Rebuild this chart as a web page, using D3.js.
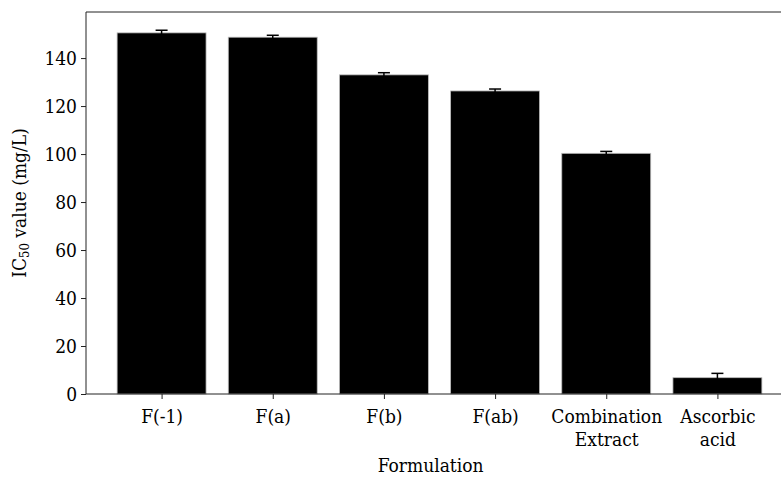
<!DOCTYPE html>
<html>
<head>
<meta charset="utf-8">
<script src="https://d3js.org/d3.v7.min.js"></script>
<style>
  body { margin: 0; background: #fff; }
  text { font-family: 'DejaVu Serif Condensed', 'DejaVu Serif', serif; fill: #000; }
  .tick text { font-size: 19px; }
  .axis path, .axis line { stroke: #222; }
</style>
</head>
<body>
<script>
// chart values
var categories = ['F(-1)', 'F(a)', 'F(b)', 'F(ab)', 'Combination\nExtract', 'Ascorbic\nacid'];
var ic50 = [150.5, 148.7, 133, 126.3, 100.3, 6.8];
var errs = [1.1, 0.8, 0.9, 0.8, 0.8, 1.8];
var yTicks = [0, 20, 40, 60, 80, 100, 120, 140];

var W = 781, H = 477;
var mLeft = 86, mTop = 12, mBottom = 394;

var svg = d3.select('body').append('svg')
  .attr('width', W)
  .attr('height', H);

// x: index positions, range extends past the right edge like the original crop
var x = d3.scaleLinear().domain([-0.68, 5.68]).range([mLeft, 793]);
var y = d3.scaleLinear().domain([0, 159.2]).range([mBottom, mTop]);
var bw = x(0.4) - x(-0.4);

// bars
svg.selectAll('rect.bar')
  .data(ic50)
  .enter()
  .append('rect')
  .attr('class', 'bar')
  .attr('x', (d, i) => x(i) - bw / 2)
  .attr('y', d => y(d))
  .attr('width', bw)
  .attr('height', d => y(0) - y(d))
  .attr('fill', '#000')
  .attr('stroke', '#bbb')
  .attr('stroke-width', 0.8);

// error bars (upper half shows above the bar)
var eg = svg.selectAll('g.err')
  .data(ic50)
  .enter()
  .append('g')
  .attr('class', 'err');
eg.append('line')
  .attr('x1', (d, i) => x(i)).attr('x2', (d, i) => x(i))
  .attr('y1', (d, i) => y(d - errs[i])).attr('y2', (d, i) => y(d + errs[i]))
  .attr('stroke', '#000').attr('stroke-width', 1.5);
eg.append('line')
  .attr('x1', (d, i) => x(i) - 6).attr('x2', (d, i) => x(i) + 6)
  .attr('y1', (d, i) => y(d + errs[i])).attr('y2', (d, i) => y(d + errs[i]))
  .attr('stroke', '#000').attr('stroke-width', 1.5);

// y axis
var ya = svg.append('g')
  .attr('class', 'axis')
  .attr('transform', `translate(${mLeft},0)`)
  .call(d3.axisLeft(y).tickValues(yTicks).tickSize(5).tickPadding(4).tickSizeOuter(0));
ya.select('.domain').attr('d', `M0,${mTop}V${mBottom}`);

// x axis
var xa = svg.append('g')
  .attr('class', 'axis')
  .attr('transform', `translate(0,${mBottom})`)
  .call(d3.axisBottom(x).tickValues(d3.range(categories.length)).tickSize(5).tickSizeOuter(0)
    .tickFormat(''));
xa.select('.domain').attr('d', `M${mLeft},0H${W}`);
xa.selectAll('.tick').each(function(d, i) {
  var t = d3.select(this).append('text')
    .attr('y', 11)
    .attr('text-anchor', 'middle')
    .style('font-size', '19px');
  categories[i].split('\n').forEach((s, k) => {
    t.append('tspan').attr('x', 0).attr('dy', k === 0 ? '0.95em' : '1.2em').text(s);
  });
});

// top spine
svg.append('line')
  .attr('x1', mLeft).attr('x2', W)
  .attr('y1', mTop).attr('y2', mTop)
  .attr('stroke', '#222');

// axis titles
svg.append('text')
  .attr('x', x(2.42))
  .attr('y', 472)
  .attr('text-anchor', 'middle')
  .style('font-size', '19px')
  .text('Formulation');

var yl = svg.append('text')
  .attr('transform', `translate(26,${(mTop + mBottom) / 2}) rotate(-90)`)
  .attr('text-anchor', 'middle')
  .style('font-size', '19px');
yl.append('tspan').text('IC');
yl.append('tspan').attr('baseline-shift', '-25%').style('font-size', '13px').text('50');
yl.append('tspan').text(' value (mg/L)');
</script>
</body>
</html>
